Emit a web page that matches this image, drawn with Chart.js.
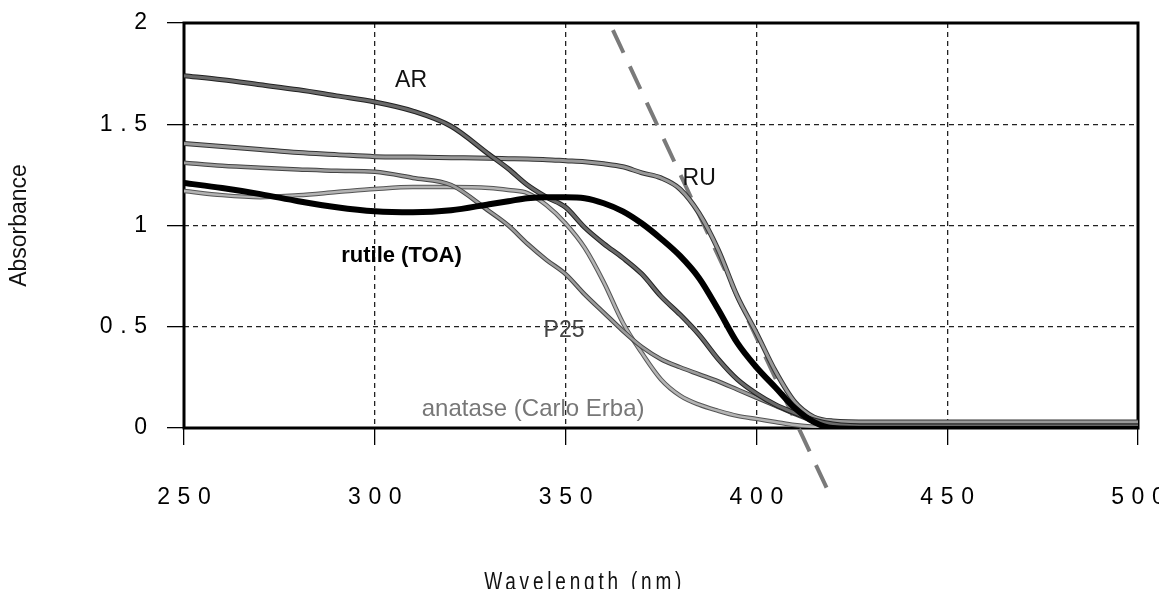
<!DOCTYPE html>
<html>
<head>
<meta charset="utf-8">
<script src="https://cdn.jsdelivr.net/npm/chart.js@4"></script>
<style>
  html, body { margin: 0; padding: 0; background: #fff; }
  #wrap { width: 1159px; height: 589px; }
</style>
</head>
<body>
<div id="wrap"><canvas id="absChart"></canvas></div>
<script>
// wavelengths (nm) shared by every measured curve
const wavelengths = [250, 260, 270, 280, 290, 300, 310, 320, 330, 335, 340, 345, 350, 355, 360, 365,
                     370, 375, 380, 385, 390, 395, 400, 405, 410, 415, 420, 430, 450, 475, 500];

const arAbs      = [1.74, 1.72, 1.695, 1.67, 1.64, 1.61, 1.565, 1.49, 1.35, 1.28, 1.20, 1.14, 1.09, 0.99, 0.91, 0.84,
                    0.76, 0.65, 0.56, 0.46, 0.34, 0.24, 0.17, 0.115, 0.075, 0.04, 0.02, 0.01, 0.01, 0.01, 0.01];
const ruAbs      = [1.405, 1.39, 1.375, 1.36, 1.35, 1.34, 1.338, 1.335, 1.332, 1.33, 1.328, 1.325, 1.32, 1.315, 1.305, 1.29,
                    1.26, 1.235, 1.18, 1.06, 0.88, 0.65, 0.47, 0.28, 0.13, 0.055, 0.035, 0.03, 0.03, 0.03, 0.03];
const rutileAbs  = [1.21, 1.185, 1.155, 1.12, 1.09, 1.07, 1.065, 1.075, 1.105, 1.12, 1.135, 1.14, 1.14, 1.135, 1.11, 1.07,
                    1.01, 0.935, 0.85, 0.74, 0.585, 0.42, 0.30, 0.20, 0.10, 0.03, 0.0, -0.005, -0.005, -0.005, -0.005];
const p25Abs     = [1.31, 1.295, 1.285, 1.277, 1.27, 1.265, 1.235, 1.20, 1.07, 1.0, 0.91, 0.83, 0.76, 0.66, 0.57, 0.48,
                    0.40, 0.34, 0.30, 0.265, 0.23, 0.19, 0.15, 0.11, 0.07, 0.035, 0.015, 0.01, 0.01, 0.01, 0.01];
const anataseAbs = [1.17, 1.15, 1.14, 1.15, 1.165, 1.18, 1.19, 1.19, 1.185, 1.175, 1.16, 1.10, 1.01, 0.89, 0.72, 0.52,
                    0.37, 0.24, 0.16, 0.115, 0.085, 0.06, 0.045, 0.03, 0.015, 0.006, 0.004, 0.004, 0.004, 0.004, 0.004];

// tangent drawn through the steep part of RU (band-gap extrapolation)
const tangentWl  = [362.4, 419.5];
const tangentAbs = [1.965, -0.34];

const xTicks = [250, 300, 350, 400, 450, 500];
const yTicks = [0, 0.5, 1, 1.5, 2];
const xTitle = 'Wavelength (nm)';
const yTitle = 'Absorbance';

// curve captions, placed in data units
const captions = [
    { text: 'AR', wl: 309.5, abs: 1.715, color: '#111', font: "23px 'Liberation Sans', Arial, sans-serif" },
    { text: 'RU', wl: 385, abs: 1.23, color: '#111', font: "23px 'Liberation Sans', Arial, sans-serif" },
    { text: 'rutile (TOA)', wl: 307, abs: 0.85, color: '#000', font: "bold 22px 'Liberation Sans', Arial, sans-serif" },
    { text: 'P25', wl: 349.6, abs: 0.48, color: '#444', font: "23px 'Liberation Sans', Arial, sans-serif" },
    { text: 'anatase (Carlo Erba)', wl: 341.5, abs: 0.09, color: '#777', font: "24px 'Liberation Sans', Arial, sans-serif" }
];

const SP = '\u2004';
const spaced = v => String(v).split('').join(SP);
const tickFont = { family: "'Liberation Sans', Arial, sans-serif", size: 23 };

// scanned-print look: a dark outline under a grey core
const series = (label, values, color, width, outline) => {
    const data = wavelengths.map((w, i) => ({ x: w, y: values[i] }));
    const core = {
        label, data, borderColor: color, borderWidth: width,
        pointRadius: 0, cubicInterpolationMode: 'monotone', fill: false
    };
    if (!outline) return [core];
    return [core, { ...core, label: label + ' edge', borderColor: outline, borderWidth: width + 2 }];
};

const framePlugin = {
    id: 'frame',
    beforeDatasetsDraw(chart) {
        const { ctx, chartArea: a } = chart;
        ctx.save();
        ctx.lineWidth = 3;
        ctx.strokeStyle = '#000';
        ctx.strokeRect(a.left, a.top, a.right - a.left, a.bottom - a.top);
        ctx.restore();
    }
};

const captionPlugin = {
    id: 'captions',
    afterDatasetsDraw(chart) {
        const { ctx, scales, chartArea: a } = chart;
        ctx.save();
        ctx.textAlign = 'center';
        ctx.textBaseline = 'middle';
        captions.forEach(c => {
            ctx.font = c.font;
            ctx.fillStyle = c.color;
            ctx.fillText(c.text, scales.x.getPixelForValue(c.wl), scales.y.getPixelForValue(c.abs));
        });
        // x axis title: narrow, letter-spaced, a little left of the plot centre
        ctx.translate(a.left + 0.42 * (a.right - a.left), a.bottom + 155);
        ctx.scale(0.76, 1);
        ctx.letterSpacing = '5px';
        ctx.font = "25px 'Liberation Sans', Arial, sans-serif";
        ctx.fillStyle = '#111';
        ctx.fillText(xTitle, 0, 0);
        ctx.restore();
    }
};

const ctx = document.getElementById('absChart').getContext('2d');

new Chart(ctx, {
    type: 'line',
    data: {
        datasets: [
            ...series('rutile (TOA)', rutileAbs, '#000', 6),
            ...series('AR', arAbs, '#6a6a6a', 3, '#222'),
            ...series('RU', ruAbs, '#999', 3, '#333'),
            ...series('P25', p25Abs, '#9c9c9c', 2.5, '#444'),
            ...series('anatase (Carlo Erba)', anataseAbs, '#b4b4b4', 2.5, '#555'),
            {
                label: 'tangent',
                data: tangentWl.map((w, i) => ({ x: w, y: tangentAbs[i] })),
                borderColor: '#7a7a7a',
                borderWidth: 4,
                borderDash: [25, 15],
                pointRadius: 0,
                clip: false
            }
        ]
    },
    options: {
        responsive: true,
        maintainAspectRatio: false,
        animation: false,
        layout: { padding: { left: 0, right: 21, top: 23, bottom: 0 } },
        plugins: { legend: { display: false }, tooltip: { enabled: false } },
        scales: {
            x: {
                type: 'linear',
                min: 250,
                max: 500,
                afterBuildTicks: s => { s.ticks = xTicks.map(v => ({ value: v })); },
                afterFit: s => { s.height = 161; s.paddingLeft = 0; s.paddingRight = 0; },
                ticks: { callback: v => spaced(v), font: tickFont, color: '#000', padding: 39, maxRotation: 0 },
                grid: { color: '#222', lineWidth: 1.3, tickLength: 17, tickColor: '#000', tickWidth: 1.3, tickBorderDash: [] },
                border: { display: false, dash: [5, 4] }
            },
            y: {
                min: 0,
                max: 2,
                afterBuildTicks: s => { s.ticks = yTicks.map(v => ({ value: v })); },
                afterFit: s => { s.width = 184; s.paddingTop = 0; s.paddingBottom = 0; },
                ticks: { callback: v => spaced(v), font: tickFont, color: '#000', padding: 20 },
                grid: { color: '#222', lineWidth: 1.3, tickLength: 17, tickColor: '#000', tickWidth: 1.3, tickBorderDash: [] },
                border: { display: false, dash: [5, 4] },
                title: {
                    display: true,
                    text: yTitle,
                    color: '#111',
                    font: { family: "'Liberation Sans', Arial, sans-serif", size: 23 },
                    padding: { top: 6 }
                }
            }
        }
    },
    plugins: [framePlugin, captionPlugin]
});
</script>
</body>
</html>
